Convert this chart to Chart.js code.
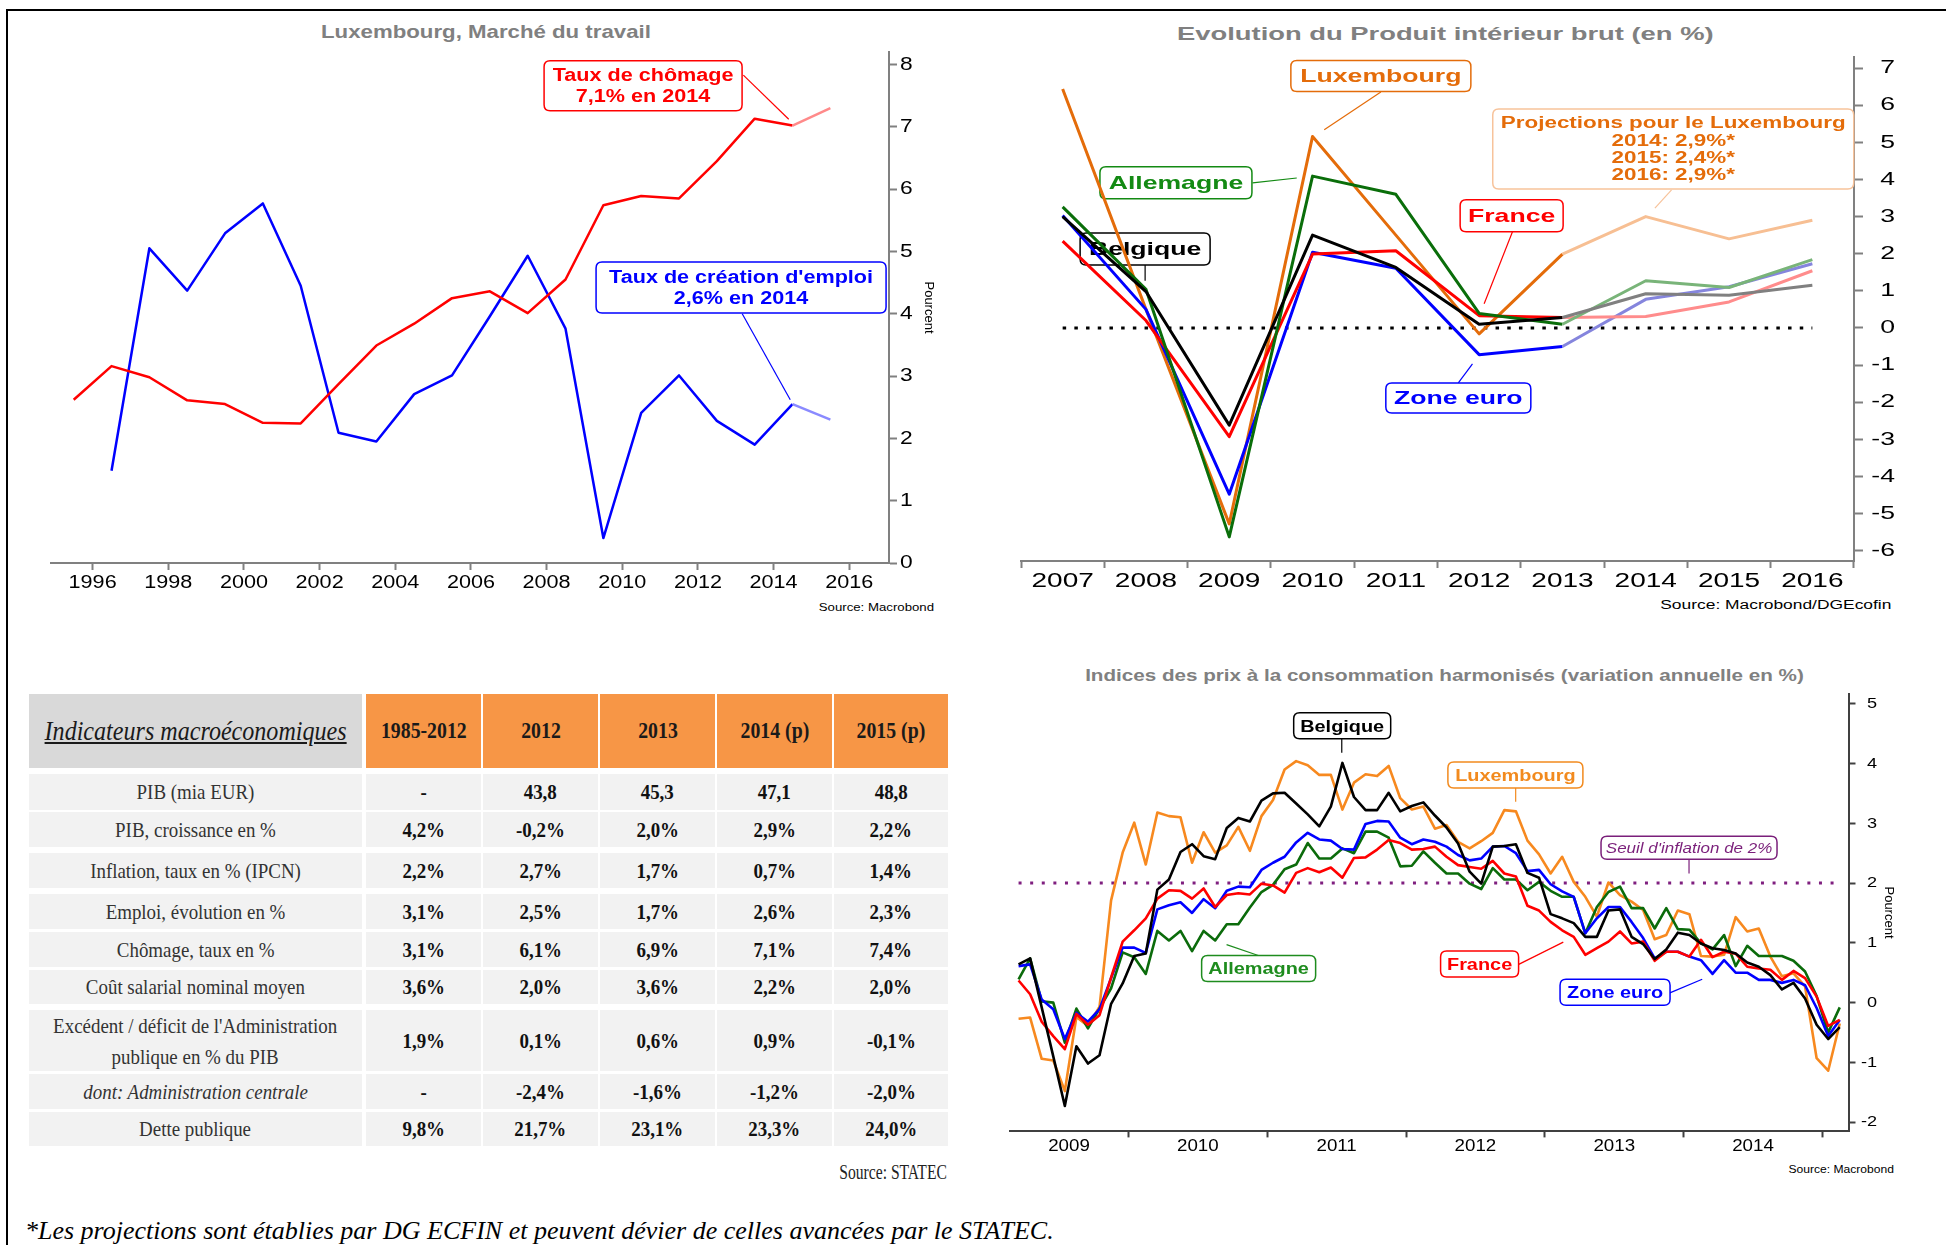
<!DOCTYPE html>
<html>
<head>
<meta charset="utf-8">
<script src="https://cdn.jsdelivr.net/npm/chart.js@4.4.1/dist/chart.umd.min.js"></script>
<style>
html,body{margin:0;padding:0;background:#fff;}
body{width:1946px;height:1245px;position:relative;overflow:hidden;font-family:"Liberation Sans",Arial,sans-serif;}
canvas{position:absolute;}
.frame{position:absolute;left:6px;top:9px;width:1946px;height:1245px;border-top:2px solid #000;border-left:2px solid #000;box-sizing:border-box;}
.title{position:absolute;text-align:center;font-weight:bold;color:#808080;white-space:nowrap;}
.title span,.src span,.cell span{display:inline-block;white-space:nowrap;}
.src{position:absolute;text-align:right;color:#000;white-space:nowrap;}
.src span{transform-origin:right center;}
.cell{position:absolute;display:flex;align-items:center;justify-content:center;text-align:center;font-family:"Liberation Serif","Times New Roman",serif;color:#333;}
.cell span{transform:scaleX(0.86);}
.foot{position:absolute;left:25px;top:1216px;font:italic 26px "Liberation Serif",serif;color:#000;white-space:nowrap;line-height:30px;}
</style>
</head>
<body>
<div class="frame"></div>

<div class="title" style="left:186px;top:20px;width:600px;font-size:19px;line-height:24px"><span style="transform:scaleX(1.17)">Luxembourg, Marché du travail</span></div>
<div class="title" style="left:1045px;top:22px;width:800px;font-size:19px;line-height:24px"><span style="transform:scaleX(1.44)">Evolution du Produit intérieur brut (en %)</span></div>
<div class="title" style="left:1044px;top:665px;width:800px;font-size:16.5px;line-height:20px"><span style="transform:scaleX(1.25)">Indices des prix à la consommation harmonisés (variation annuelle en %)</span></div>

<div class="src" style="left:734px;top:600px;width:200px;font-size:11px;line-height:14px"><span style="transform:scaleX(1.2)">Source: Macrobond</span></div>
<div class="src" style="left:1591px;top:598px;width:300px;font-size:12px;line-height:15px"><span style="transform:scaleX(1.45)">Source: Macrobond/DGEcofin</span></div>
<div class="src" style="left:1694px;top:1162px;width:200px;font-size:11px;line-height:14px"><span style="transform:scaleX(1.1)">Source: Macrobond</span></div>
<div class="src" style="left:647px;top:1159px;width:300px;font-size:20px;line-height:26px;font-family:'Liberation Serif',serif;color:#222"><span style="transform:scaleX(0.78)">Source: STATEC</span></div>

<div class="foot">*Les projections sont établies par DG ECFIN et peuvent dévier de celles avancées par le STATEC.</div>

<canvas id="c1" width="910" height="580" style="left:40px;top:40px"></canvas>
<canvas id="c2" width="946" height="580" style="left:1000px;top:40px"></canvas>
<canvas id="c4" width="906" height="510" style="left:1000px;top:685px"></canvas>

<script>
// ================= DATA =================
// Chart 1 : Luxembourg, Marché du travail
const laborYears = [1995,1996,1997,1998,1999,2000,2001,2002,2003,2004,2005,2006,2007,2008,2009,2010,2011,2012,2013,2014,2015];
const unemploymentRate = [2.62,3.16,2.98,2.61,2.55,2.25,2.24,2.87,3.49,3.84,4.25,4.36,4.01,4.55,5.74,5.89,5.85,6.45,7.13,7.02,7.30];
const jobCreationRate = [null,1.48,5.05,4.37,5.29,5.77,4.45,2.09,1.95,2.71,3.01,3.96,4.93,3.76,0.40,2.41,3.01,2.28,1.90,2.55,2.30];
const laborLastActual = 2014;
const laborXTicks = [1996,1998,2000,2002,2004,2006,2008,2010,2012,2014,2016];
const laborYTicks = [0,1,2,3,4,5,6,7,8];

// Chart 2 : Evolution du PIB (en %)
const gdpYears = ['2007','2008','2009','2010','2011','2012','2013','2014','2015','2016'];
const gdpLux = [6.44,0.50,-5.28,5.16,2.50,-0.16,1.99,3.00,2.40,2.90];
const gdpDeu = [3.26,1.04,-5.63,4.09,3.60,0.39,0.10,1.27,1.09,1.84];
const gdpBel = [3.00,0.98,-2.62,2.50,1.63,0.10,0.28,0.92,0.88,1.15];
const gdpFra = [2.34,0.20,-2.93,1.99,2.08,0.33,0.28,0.31,0.70,1.54];
const gdpEa  = [3.03,0.50,-4.48,2.04,1.61,-0.72,-0.50,0.77,1.11,1.73];
const gdpLastActual = '2013';
const gdpYTicks = [-6,-5,-4,-3,-2,-1,0,1,2,3,4,5,6,7];

// Chart 4 : IPCH, variation annuelle en % (mensuel, mars 2009 - fevrier 2015)
const hicpFirstMonth = '2009-03';
const hicpBel = [0.64,0.74,-0.08,-0.90,-1.73,-0.73,-1.02,-0.88,-0.02,0.32,0.78,0.82,
  1.89,2.06,2.52,2.65,2.45,2.40,2.92,3.09,3.03,3.38,3.50,3.51,
  3.33,3.15,2.95,3.28,4.01,3.44,3.22,3.22,3.51,3.20,3.29,3.35,
  3.13,2.93,2.66,2.19,1.99,2.61,2.62,2.65,2.17,2.09,1.48,1.41,
  1.33,1.10,1.10,1.54,1.56,1.10,0.98,0.73,0.89,1.17,1.13,0.99,
  0.91,0.88,0.82,0.67,0.60,0.46,0.22,0.33,0.07,-0.37,-0.61,-0.41];
const hicpLux = [-0.27,-0.25,-0.94,-0.97,-1.48,-0.24,-0.39,-0.07,1.71,2.51,3.01,2.31,
  3.18,3.12,3.10,2.34,2.85,2.51,2.63,2.94,2.54,3.12,3.39,3.90,
  4.04,3.97,3.81,3.81,3.23,3.68,3.82,3.79,3.96,3.42,3.23,3.28,
  2.91,2.97,2.69,2.58,2.70,2.84,3.22,3.20,2.71,2.48,2.16,2.44,
  2.02,1.77,1.44,2.01,1.80,1.69,1.55,1.06,1.13,1.54,1.48,0.78,
  0.77,0.80,1.43,1.19,1.24,0.77,0.44,0.49,0.27,-0.93,-1.14,-0.35];
const hicpEa = [0.61,0.64,0.05,-0.11,-0.61,-0.17,-0.32,-0.11,0.41,0.92,0.92,0.83,
  1.56,1.63,1.68,1.50,1.73,1.58,1.87,1.94,1.93,2.22,2.34,2.44,
  2.68,2.84,2.73,2.71,2.57,2.56,2.99,3.04,3.03,2.76,2.65,2.73,
  2.69,2.61,2.47,2.38,2.41,2.61,2.62,2.50,2.20,2.22,1.98,1.86,
  1.77,1.16,1.41,1.60,1.60,1.35,1.08,0.74,0.85,0.85,0.77,0.71,
  0.48,0.71,0.50,0.50,0.38,0.38,0.33,0.38,0.29,-0.09,-0.56,-0.29];
const hicpFra = [0.37,0.14,-0.32,-0.56,-0.78,-0.19,-0.37,-0.21,0.42,1.02,1.21,1.41,
  1.74,1.88,1.87,1.74,1.91,1.60,1.80,1.83,1.81,1.99,1.96,1.84,
  2.17,2.25,2.18,2.26,2.09,2.42,2.43,2.56,2.72,2.67,2.56,2.57,
  2.61,2.44,2.30,2.27,2.24,2.37,2.16,2.11,1.62,1.54,1.35,1.21,
  1.10,0.80,0.91,1.02,1.19,0.99,1.02,0.70,0.85,0.85,0.77,1.05,
  0.76,0.85,0.82,0.60,0.57,0.55,0.38,0.53,0.41,0.10,-0.39,-0.29];
const hicpDeu = [0.39,0.74,0.02,0.00,-0.67,-0.10,-0.43,-0.10,0.24,0.84,0.76,0.48,
  1.20,1.04,1.20,0.86,1.20,1.04,1.31,1.31,1.59,1.85,1.97,2.23,
  2.31,2.67,2.41,2.41,2.58,2.50,2.86,2.86,2.76,2.28,2.29,2.53,
  2.34,2.16,2.16,1.99,1.90,2.25,2.06,2.06,1.88,2.02,1.87,1.77,
  1.77,1.16,1.60,1.85,1.94,1.58,1.58,1.24,1.58,1.23,1.22,0.99,
  0.89,1.13,0.61,0.95,0.78,0.78,0.78,0.70,0.52,0.11,-0.50,-0.08];
const hicpYearLabels = [2009,2010,2011,2012,2013,2014];
const hicpYearBounds = [2010,2011,2012,2013,2014,2015];
const hicpYTicks = [-2,-1,0,1,2,3,4,5];
const inflationThreshold = 2;

// Table : Indicateurs macroéconomiques (STATEC)
const tableTitle = 'Indicateurs macroéconomiques';
const tableHead = ['1985-2012','2012','2013','2014 (p)','2015 (p)'];
const tableLabels = ['PIB (mia EUR)','PIB, croissance en %','Inflation, taux en % (IPCN)','Emploi, évolution en %','Chômage, taux en %','Coût salarial nominal moyen',"Excédent / déficit de l'Administration<br>publique en % du PIB",'<i>dont: Administration centrale</i>','Dette publique'];
const col1985 = ['-','4,2%','2,2%','3,1%','3,1%','3,6%','1,9%','-','9,8%'];
const col2012 = ['43,8','-0,2%','2,7%','2,5%','6,1%','2,0%','0,1%','-2,4%','21,7%'];
const col2013 = ['45,3','2,0%','1,7%','1,7%','6,9%','3,6%','0,6%','-1,6%','23,1%'];
const col2014 = ['47,1','2,9%','0,7%','2,6%','7,1%','2,2%','0,9%','-1,2%','23,3%'];
const col2015 = ['48,8','2,2%','1,4%','2,3%','7,4%','2,0%','-0,1%','-2,0%','24,0%'];

// ================= HELPERS =================
const FAM = '"Liberation Sans", Arial, sans-serif';
Chart.defaults.font.family = FAM;
Chart.defaults.color = '#000';

function stretchText(ctx, s) {
  const orig = ctx.fillText;
  ctx.fillText = function (t, x, y) {
    const m = this.getTransform();
    if (s === 1 || Math.abs(m.b) > 0.01) return orig.call(this, t, x, y);
    this.save(); this.translate(x, y); this.scale(s, 1);
    orig.call(this, t, 0, 0);
    this.restore();
  };
  return ctx;
}
function rr(ctx, x, y, w, h, r) {
  ctx.beginPath();
  ctx.moveTo(x + r, y); ctx.lineTo(x + w - r, y); ctx.quadraticCurveTo(x + w, y, x + w, y + r);
  ctx.lineTo(x + w, y + h - r); ctx.quadraticCurveTo(x + w, y + h, x + w - r, y + h);
  ctx.lineTo(x + r, y + h); ctx.quadraticCurveTo(x, y + h, x, y + h - r);
  ctx.lineTo(x, y + r); ctx.quadraticCurveTo(x, y, x + r, y); ctx.closePath();
}
function makeCallouts(items, refLines) {
  return {
    id: 'callouts',
    beforeDatasetsDraw(chart) {
      const ctx = chart.ctx, X = chart.scales.x, Y = chart.scales.y;
      (refLines || []).forEach(r => {
        ctx.save();
        ctx.strokeStyle = r.color; ctx.lineWidth = r.width; ctx.setLineDash(r.dash); ctx.lineCap = 'butt';
        ctx.beginPath();
        ctx.moveTo(X.getPixelForValue(r.x0), Y.getPixelForValue(r.y));
        ctx.lineTo(X.getPixelForValue(r.x1), Y.getPixelForValue(r.y));
        ctx.stroke(); ctx.restore();
      });
      items.forEach(it => {
        ctx.save();
        ctx.strokeStyle = it.linkColor || it.border || it.color; ctx.lineWidth = 1.2;
        ctx.beginPath();
        ctx.moveTo(X.getPixelForValue(it.link[0]), Y.getPixelForValue(it.link[1]));
        ctx.lineTo(X.getPixelForValue(it.link[2]), Y.getPixelForValue(it.link[3]));
        ctx.stroke();
        const cx = X.getPixelForValue(it.x), cy = Y.getPixelForValue(it.y);
        rr(ctx, cx - it.w / 2, cy - it.h / 2, it.w, it.h, 6);
        ctx.fillStyle = '#fff'; ctx.fill();
        ctx.strokeStyle = it.border || it.color; ctx.lineWidth = 1.5; ctx.stroke();
        ctx.fillStyle = it.color; ctx.font = it.font; ctx.textAlign = 'center'; ctx.textBaseline = 'middle';
        const n = it.lines.length;
        it.lines.forEach((t, k) => ctx.fillText(t, cx, cy + (k - (n - 1) / 2) * (it.lh || 0) + 1));
        ctx.restore();
      });
    }
  };
}
function fixedTicks(arr) { return s => { s.ticks = arr.map(v => ({ value: v })); }; }
function fitY(w) { return s => { s.width = w; s.paddingTop = 0; s.paddingBottom = 0; }; }
function fitX(h) { return s => { s.height = h; s.paddingLeft = 0; s.paddingRight = 0; }; }
const baseOpts = { animation: false, responsive: false, devicePixelRatio: 1, events: [] };

// ================= CHART 1 =================
const laborLastIdx = laborYears.indexOf(laborLastActual);
new Chart(stretchText(document.getElementById('c1').getContext('2d'), 1.2), {
  type: 'line',
  data: {
    datasets: [
      { label: 'Taux de chômage', data: laborYears.map((y, i) => ({ x: y + 0.5, y: unemploymentRate[i] })),
        borderColor: '#ff0000', borderWidth: 2.5, pointRadius: 0, borderJoinStyle: 'round',
        segment: { borderColor: c => c.p1DataIndex > laborLastIdx ? '#ff8a8a' : undefined } },
      { label: "Taux de création d'emploi", data: laborYears.map((y, i) => ({ x: y + 0.5, y: jobCreationRate[i] })),
        borderColor: '#0000ff', borderWidth: 2.5, pointRadius: 0, borderJoinStyle: 'round',
        segment: { borderColor: c => c.p1DataIndex > laborLastIdx ? '#8a8aff' : undefined } }
    ]
  },
  options: Object.assign({}, baseOpts, {
    layout: { padding: { left: 11, top: 12, right: 0, bottom: 0 } },
    plugins: { legend: { display: false }, tooltip: { enabled: false } },
    scales: {
      x: { type: 'linear', min: 1994.9, max: 2017.05, afterBuildTicks: fixedTicks(laborXTicks),
        afterFit: fitX(57),
        grid: { drawOnChartArea: false, tickLength: 7, tickColor: '#808080', tickWidth: 2 },
        border: { color: '#808080', width: 2 },
        ticks: { font: { size: 18 }, color: '#000', padding: 2, maxRotation: 0, autoSkip: false, callback: v => String(v) } },
      y: { position: 'right', min: 0, max: 8.2, afterBuildTicks: fixedTicks(laborYTicks),
        afterFit: fitY(61),
        grid: { drawOnChartArea: false, tickLength: 8, tickColor: '#808080', tickWidth: 2 },
        border: { color: '#808080', width: 2 },
        ticks: { font: { size: 19 }, color: '#000', padding: 3, callback: v => String(v) },
        title: { display: true, text: 'Pourcent', font: { size: 13 }, color: '#000', padding: { top: 14, bottom: 0 } } }
    }
  }),
  plugins: [makeCallouts([
    { x: 2010.55, y: 7.66, w: 198, h: 50, lines: ['Taux de chômage', '7,1% en 2014'], lh: 20.4,
      color: '#ff0000', font: 'bold 18px ' + FAM, link: [2013.2, 7.83, 2014.4, 7.12] },
    { x: 2013.14, y: 4.42, w: 290, h: 51, lines: ["Taux de création d'emploi", '2,6% en 2014'], lh: 20.4,
      color: '#0000ff', font: 'bold 18px ' + FAM, link: [2013.17, 4.0, 2014.44, 2.62] }
  ])]
});

// ================= CHART 2 =================
const gdpLastIdx = gdpYears.indexOf(gdpLastActual);
function gdpSet(label, data, color, light, order) {
  return { label, data, borderColor: color, borderWidth: 3, pointRadius: 0, borderJoinStyle: 'round', order,
    segment: { borderColor: c => c.p1DataIndex > gdpLastIdx ? light : undefined } };
}
new Chart(stretchText(document.getElementById('c2').getContext('2d'), 1.4), {
  type: 'line',
  data: {
    labels: gdpYears,
    datasets: [
      gdpSet('Belgique', gdpBel, '#000000', '#808080', 1),
      gdpSet('Allemagne', gdpDeu, '#0a6e0a', '#79b479', 2),
      gdpSet('France', gdpFra, '#ff0000', '#ff8c8c', 3),
      gdpSet('Zone euro', gdpEa, '#0000ff', '#8585dd', 4),
      gdpSet('Luxembourg', gdpLux, '#e46c0a', '#f7bf93', 5)
    ]
  },
  options: Object.assign({}, baseOpts, {
    layout: { padding: { left: 21, top: 17, right: 51, bottom: 0 } },
    plugins: { legend: { display: false }, tooltip: { enabled: false } },
    scales: {
      x: { type: 'category', offset: true, afterFit: fitX(59),
        grid: { offset: true, drawOnChartArea: false, tickLength: 7, tickColor: '#808080', tickWidth: 2 },
        border: { color: '#808080', width: 2 },
        ticks: { font: { size: 20 }, color: '#000', padding: 1, maxRotation: 0, autoSkip: false } },
      y: { position: 'right', min: -6.28, max: 7.3, afterBuildTicks: fixedTicks(gdpYTicks),
        afterFit: fitY(41),
        grid: { drawOnChartArea: false, tickLength: 9, tickColor: '#808080', tickWidth: 2 },
        border: { color: '#808080', width: 2 },
        ticks: { font: { size: 19 }, color: '#000', padding: 0, crossAlign: 'far', callback: v => String(v) } }
    }
  }),
  plugins: [makeCallouts([
    { x: 3.82, y: 6.79, w: 180, h: 31, lines: ['Luxembourg'], color: '#e46c0a', font: 'bold 19px ' + FAM, link: [3.82, 6.36, 3.14, 5.34] },
    { x: 7.33, y: 4.82, w: 361, h: 80, lines: ['Projections pour le Luxembourg', '2014: 2,9%*', '2015: 2,4%*', '2016: 2,9%*'], lh: 17.3,
      color: '#e46c0a', border: '#f7c39b', font: 'bold 16px ' + FAM, link: [7.31, 3.72, 7.11, 3.23] },
    { x: 1.36, y: 3.91, w: 152, h: 32, lines: ['Allemagne'], color: '#138a13', font: 'bold 19px ' + FAM, link: [2.28, 3.91, 2.81, 4.04] },
    { x: 5.39, y: 3.02, w: 103, h: 32, lines: ['France'], color: '#ff0000', font: 'bold 19px ' + FAM, link: [5.40, 2.59, 5.06, 0.65] },
    { x: 0.99, y: 2.13, w: 130, h: 32, lines: ['Belgique'], color: '#000000', font: 'bold 19px ' + FAM, link: [0.99, 1.70, 0.99, 1.27] },
    { x: 4.75, y: -1.89, w: 145, h: 30, lines: ['Zone euro'], color: '#0000ff', font: 'bold 19px ' + FAM, link: [4.75, -1.48, 4.92, -0.97] }
  ], [
    { x0: 0, x1: gdpYears.length - 1, y: 0, color: '#000', width: 3, dash: [3.5, 8.2] }
  ])]
});

// ================= CHART 4 =================
const hicpMonths = [];
(function () {
  let [yy, mm] = hicpFirstMonth.split('-').map(Number);
  for (let i = 0; i < hicpEa.length; i++) {
    hicpMonths.push(yy + '-' + String(mm).padStart(2, '0'));
    mm++; if (mm > 12) { mm = 1; yy++; }
  }
})();
const hicpX = hicpMonths.map(m => { const [y, mo] = m.split('-').map(Number); return y + (mo - 1) / 12 + 1 / 24; });
function hicpSet(label, arr, color, order) {
  return { label, data: arr.map((v, i) => ({ x: hicpX[i], y: v })), borderColor: color, borderWidth: 2.6,
    pointRadius: 0, borderJoinStyle: 'round', order };
}
const hicpMin = 2009.143, hicpMax = 2015.188;
const hicpTicks = [];
hicpYearLabels.forEach((y, i) => {
  // year label centred on the visible part of that year
  hicpTicks.push((Math.max(y, hicpMin) + Math.min(y + 1, hicpMax)) / 2);
  hicpTicks.push(hicpYearBounds[i]);
});
new Chart(stretchText(document.getElementById('c4').getContext('2d'), 1.17), {
  type: 'line',
  data: {
    datasets: [
      hicpSet('Belgique', hicpBel, '#000000', 1),
      hicpSet('France', hicpFra, '#ff0000', 2),
      hicpSet('Zone euro', hicpEa, '#0000ff', 3),
      hicpSet('Allemagne', hicpDeu, '#0b6b0b', 4),
      hicpSet('Luxembourg', hicpLux, '#f7891f', 5)
    ]
  },
  options: Object.assign({}, baseOpts, {
    layout: { padding: { left: 9.5, top: 8.6, right: 29, bottom: 0 } },
    plugins: { legend: { display: false }, tooltip: { enabled: false } },
    scales: {
      x: { type: 'linear', min: hicpMin, max: hicpMax, afterBuildTicks: fixedTicks(hicpTicks),
        afterFit: fitX(63.6),
        grid: { drawOnChartArea: false, tickLength: 6, tickWidth: 2,
          tickColor: c => (c.tick && Number.isInteger(c.tick.value)) ? '#404040' : 'rgba(0,0,0,0)' },
        border: { color: '#404040', width: 2 },
        ticks: { font: { size: 16 }, color: '#000', padding: 0, maxRotation: 0, autoSkip: false,
          callback: v => Number.isInteger(v) ? '' : String(Math.floor(v)) } },
      y: { position: 'right', min: -2.155, max: 5.17, afterBuildTicks: fixedTicks(hicpYTicks),
        afterFit: fitY(28.5),
        grid: { drawOnChartArea: false, tickLength: 7, tickColor: '#404040', tickWidth: 2 },
        border: { color: '#404040', width: 2 },
        ticks: { font: { size: 15.5 }, color: '#000', padding: 0, crossAlign: 'far', callback: v => String(v) },
        title: { display: true, text: 'Pourcent', font: { size: 13 }, color: '#000', padding: { top: -19.8, bottom: 0 } } }
    }
  }),
  plugins: [makeCallouts([
    { x: 2011.540, y: 4.63, w: 97, h: 26, lines: ['Belgique'], color: '#000000', font: 'bold 17px ' + FAM, link: [2011.537, 4.41, 2011.537, 4.18] },
    { x: 2012.788, y: 3.81, w: 135, h: 26, lines: ['Luxembourg'], color: '#f28a1e', font: 'bold 17px ' + FAM, link: [2012.79, 3.60, 2012.79, 3.36] },
    { x: 2014.039, y: 2.59, w: 176, h: 23, lines: ["Seuil d'inflation de 2%"], color: '#7a1f7a', font: 'italic 14.5px ' + FAM, link: [2014.039, 2.40, 2014.039, 2.16] },
    { x: 2010.938, y: 0.572, w: 114, h: 26, lines: ['Allemagne'], color: '#1e8c1e', font: 'bold 17px ' + FAM, link: [2010.936, 0.789, 2010.707, 0.970] },
    { x: 2012.530, y: 0.647, w: 78, h: 26, lines: ['France'], color: '#ff0000', font: 'bold 17px ' + FAM, link: [2012.812, 0.640, 2013.133, 1.012] },
    { x: 2013.506, y: 0.174, w: 110, h: 26, lines: ['Zone euro'], color: '#0000ff', font: 'bold 17px ' + FAM, link: [2013.901, 0.162, 2014.134, 0.390] }
  ], [
    { x0: hicpX[0], x1: hicpX[hicpX.length - 1], y: inflationThreshold, color: '#7f1f7f', width: 3, dash: [3, 8.6] }
  ])]
});

// ================= TABLE =================
(function () {
  const colX = [29, 366, 483, 600, 717, 834];
  const colW = [333, 115, 115, 115, 115, 114];
  const headTop = 694, headH = 74;
  const rowTop = [774, 812, 853, 894, 932, 970, 1010, 1074, 1112];
  const rowH = [36, 35, 35, 35, 35, 34, 61, 35, 34];
  const cols = [col1985, col2012, col2013, col2014, col2015];
  function cell(x, y, w, h, bg, html, style) {
    const d = document.createElement('div');
    d.className = 'cell';
    d.style.cssText = `left:${x}px;top:${y}px;width:${w}px;height:${h}px;background:${bg};${style || ''}`;
    d.innerHTML = `<span>${html}</span>`;
    document.body.appendChild(d);
  }
  cell(colX[0], headTop, colW[0], headH, '#d9d9d9', tableTitle,
    'font-style:italic;font-size:28px;text-decoration:underline;color:#1a1a1a;');
  tableHead.forEach((h, j) => cell(colX[j + 1], headTop, colW[j + 1], headH, '#f79646', h,
    'font-weight:bold;font-size:23px;color:#1a1a1a;'));
  tableLabels.forEach((lab, i) => {
    cell(colX[0], rowTop[i], colW[0], rowH[i], '#f2f2f2', lab,
      'font-size:22px;color:#333;line-height:' + (rowH[i] > 50 ? '31px' : '26px') + ';');
    cols.forEach((col, j) => cell(colX[j + 1], rowTop[i], colW[j + 1], rowH[i], '#f2f2f2', col[i],
      'font-weight:bold;font-size:22px;color:#111;'));
  });
})();
</script>
</body>
</html>
